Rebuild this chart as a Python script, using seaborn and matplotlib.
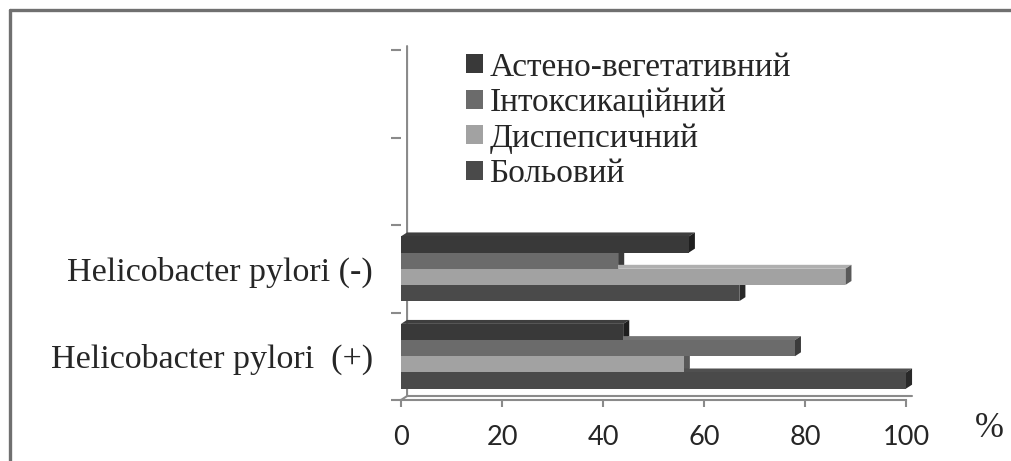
import matplotlib
matplotlib.use("Agg")
import matplotlib.pyplot as plt
import matplotlib.colors as mcolors
from matplotlib.patches import Polygon
from matplotlib.lines import Line2D
import seaborn as sns
import pandas as pd

# data
groups = ["Helicobacter pylori (-)", "Helicobacter pylori  (+)"]
series = ["Астено-вегетативний", "Інтоксикаційний", "Диспепсичний", "Больовий"]
values_neg = [57, 43, 88, 67]
values_pos = [44, 78, 56, 100]
x_ticks = [0, 20, 40, 60, 80, 100]
colors = ["#393939", "#6b6b6b", "#a2a2a2", "#4a4a4a"]

df = pd.DataFrame(
    {
        "group": [g for g in groups for _ in series],
        "series": series * 2,
        "value": values_neg + values_pos,
    }
)

sns.set_style("white")
plt.rcParams["font.family"] = ["Liberation Serif", "DejaVu Serif"]

W, H = 1011, 461
fig = plt.figure(figsize=(W / 100, H / 100), dpi=100)
ax = fig.add_axes([401 / W, 1 - 400 / H, 505 / W, 350 / H])

sns.barplot(
    data=df,
    y="group",
    x="value",
    hue="series",
    order=groups,
    hue_order=series,
    palette=colors,
    orient="h",
    width=0.74,
    saturation=1,
    linewidth=0,
    zorder=3,
    ax=ax,
)

# fake the excel 3d look: a slightly lighter top face and darker right side per bar
dx, dy = 1.2, 0.045
for bar in list(ax.patches):
    x0, y0 = bar.get_x(), bar.get_y()
    w, h = bar.get_width(), bar.get_height()
    rgb = mcolors.to_rgb(bar.get_facecolor())
    side = tuple(c * 0.55 for c in rgb)
    top = tuple(min(1, c * 1.08) for c in rgb)
    x1, yt, yb = x0 + w, y0, y0 + h
    ax.add_patch(Polygon([(x0, yt), (x0 + dx, yt - dy), (x1 + dx, yt - dy), (x1, yt)],
                         closed=True, fc=top, ec="none", zorder=2, clip_on=False))
    ax.add_patch(Polygon([(x1, yb), (x1 + dx, yb - dy), (x1 + dx, yt - dy), (x1, yt)],
                         closed=True, fc=side, ec="none", zorder=2, clip_on=False))

ax.set_xlim(0, 100)
ax.set_ylim(1.5, -2.5)

# back wall and floor edges
wall = "#8a8a8a"
ax.plot([dx, dx, 0], [-2.5 - dy, 1.5 - dy, 1.5], color=wall, lw=1.5, clip_on=False, zorder=1)
ax.plot([dx, 100 + dx], [1.5 - dy, 1.5 - dy], color=wall, lw=1.5, clip_on=False, zorder=1)

for s in ["top", "right", "left"]:
    ax.spines[s].set_visible(False)
ax.spines["bottom"].set_color(wall)
ax.spines["bottom"].set_linewidth(1.5)

ax.set_xticks(x_ticks)
ax.set_xticklabels([str(t) for t in x_ticks], family="Lato", fontsize=19.5)
ax.tick_params(axis="x", length=5, width=1.5, color=wall, pad=13, bottom=True)

ax.set_yticks([0, 1])
ax.set_yticklabels(groups, fontsize=24.5)
ax.set_yticks([-2.5, -1.5, -0.5, 0.5, 1.5], minor=True)
ax.tick_params(axis="y", which="major", length=0, pad=20)
ax.tick_params(axis="y", which="minor", length=7, width=1.5, color=wall, left=True)

ax.set_xlabel("")
ax.set_ylabel("")

leg = ax.legend(
    loc="upper left",
    bbox_to_anchor=(466 / W, 1 - 52 / H),
    bbox_transform=fig.transFigure,
    frameon=False,
    prop={"family": "Liberation Serif", "size": 24},
    handlelength=0.5,
    handleheight=0.5,
    handletextpad=0.2,
    labelspacing=0.15,
    borderaxespad=0,
    borderpad=0,
)

fig.text(989 / W, 1 - 428 / H, "%", fontsize=25, ha="center", va="center")

# outer chart frame (only left and top edges are visible in the crop)
fig.add_artist(Line2D([9.5 / W, 9.5 / W], [1 - 10 / H, 0], transform=fig.transFigure,
                      color="#707070", lw=2.4))
fig.add_artist(Line2D([9.5 / W, 1], [1 - 10 / H, 1 - 10 / H], transform=fig.transFigure,
                      color="#707070", lw=2.4))

fig.savefig("out.png", dpi=100)
